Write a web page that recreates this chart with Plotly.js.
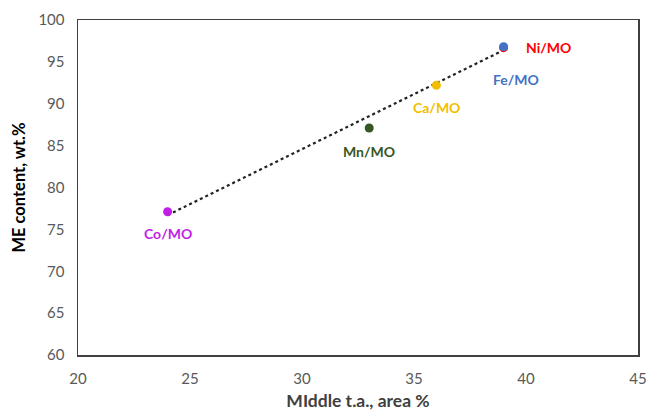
<!DOCTYPE html>
<html><head><meta charset="utf-8">
<script src="https://cdn.plot.ly/plotly-3.0.1.min.js"></script>
<style>body{margin:0;background:#fff}#c{width:652px;height:411px}</style>
</head><body><div id="c"></div>
<script>
const names = ["Co/MO","Mn/MO","Ca/MO","Fe/MO","Ni/MO"];
const xVals = [24, 33, 36, 39, 39];
const yVals = [77.1, 87.1, 92.2, 96.8, 96.7];
const colors = ["#C21EE8","#375623","#F2BE00","#4472C4","#FF0000"];
const trendX = [24, 39];
const trendY = [76.7, 96.4];
const xTicks = [20,25,30,35,40,45];
const yTicks = [60,65,70,75,80,85,90,95,100];

const labelShift = {"Co/MO":[0,-22],"Mn/MO":[0,-23],"Ca/MO":[0,-22],"Fe/MO":[12,-33],"Ni/MO":[45,0]};

const traces = [{
  x: trendX, y: trendY, mode:'lines', type:'scatter',
  line:{color:'#222', width:2.2, dash:'dot'}, hoverinfo:'skip', showlegend:false
}];
const order = [4,0,1,2,3];
order.forEach(i=>{
  traces.push({x:[xVals[i]], y:[yVals[i]], mode:'markers', type:'scatter', name:names[i],
    marker:{color:colors[i], size:9}, showlegend:false});
});
const annotations = names.map((n,i)=>({
  x:xVals[i], y:yVals[i], xref:'x', yref:'y', text:'<b>'+n+'</b>', showarrow:false,
  xshift:labelShift[n][0], yshift:labelShift[n][1],
  font:{family:'Lato, Open Sans, sans-serif', size:14, color:colors[i]}
}));
const layout = {
  width:652, height:411, margin:{l:78, r:14, t:20, b:56},
  paper_bgcolor:'#fff', plot_bgcolor:'#fff',
  font:{family:'Lato, Open Sans, sans-serif', color:'#595959', size:14},
  xaxis:{range:[20,45], tickvals:xTicks, showgrid:false, zeroline:false,
    showline:true, mirror:true, linecolor:'#404040', linewidth:1.5, ticks:'',
    ticklabelstandoff:9,
    tickfont:{size:15, color:'#595959'},
    title:{text:'<b>MIddle t.a., area %</b>', font:{size:17.5, color:'#404040'}, standoff:9}},
  yaxis:{range:[60,100], tickvals:yTicks, showgrid:false, zeroline:false,
    showline:true, mirror:true, linecolor:'#404040', linewidth:1.5, ticks:'',
    ticklabelstandoff:9,
    tickfont:{size:15, color:'#595959'},
    title:{text:'<b>ME content, wt.%</b>', font:{size:16.5, color:'#000'}, standoff:8}},
  annotations: annotations
};
Plotly.newPlot('c', traces, layout, {displayModeBar:false, staticPlot:true});
</script></body></html>
